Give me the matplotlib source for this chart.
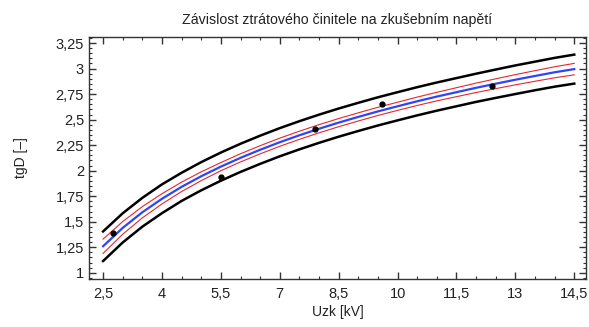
import numpy as np
import matplotlib
matplotlib.use("Agg")
import matplotlib.pyplot as plt
from matplotlib.ticker import MultipleLocator, FuncFormatter

plt.rcParams["font.family"] = ["Liberation Sans", "DejaVu Sans"]

# measured points
u_meas = [2.75, 5.5, 7.9, 9.6, 12.4]
tg_meas = [1.394, 1.942, 2.406, 2.654, 2.83]

# curves
u_curve = [2.5, 3.0, 3.5, 4.0, 4.5, 5.0, 5.5, 6.0, 6.5, 7.0, 7.5, 8.0, 8.5,
           9.0, 9.5, 10.0, 10.5, 11.0, 11.5, 12.0, 12.5, 13.0, 13.5, 14.0, 14.5]
fit = [1.260, 1.440, 1.593, 1.725, 1.842, 1.946, 2.040, 2.126, 2.205, 2.279,
       2.347, 2.411, 2.471, 2.527, 2.581, 2.631, 2.680, 2.726, 2.769, 2.812,
       2.852, 2.891, 2.928, 2.964, 2.995]
conf_up = [1.330, 1.502, 1.648, 1.775, 1.888, 1.989, 2.080, 2.166, 2.245, 2.319,
           2.387, 2.451, 2.511, 2.567, 2.621, 2.671, 2.721, 2.768, 2.813, 2.858,
           2.900, 2.941, 2.980, 3.018, 3.051]
conf_lo = [1.190, 1.378, 1.538, 1.675, 1.796, 1.903, 2.000, 2.086, 2.165, 2.239,
           2.307, 2.371, 2.431, 2.487, 2.541, 2.591, 2.639, 2.684, 2.725, 2.766,
           2.804, 2.841, 2.876, 2.910, 2.939]
pred_up = [1.405, 1.583, 1.734, 1.866, 1.980, 2.084, 2.178, 2.264, 2.343, 2.417,
           2.485, 2.549, 2.609, 2.665, 2.719, 2.769, 2.818, 2.864, 2.907, 2.950,
           2.991, 3.031, 3.068, 3.105, 3.137]
pred_lo = [1.115, 1.297, 1.452, 1.584, 1.704, 1.808, 1.902, 1.988, 2.067, 2.141,
           2.209, 2.273, 2.333, 2.389, 2.443, 2.493, 2.542, 2.588, 2.631, 2.674,
           2.713, 2.751, 2.788, 2.823, 2.853]

fig = plt.figure(figsize=(5.89, 3.27), dpi=100)
ax = fig.add_axes([0.151, 0.147, 0.844, 0.740])

ax.plot(u_curve, pred_up, color="black", lw=1.8)
ax.plot(u_curve, pred_lo, color="black", lw=1.8)
ax.plot(u_curve, conf_up, color="#e8262a", lw=0.8)
ax.plot(u_curve, conf_lo, color="#e8262a", lw=0.8)
ax.plot(u_curve, fit, color="#2f45f5", lw=1.6)
ax.plot(u_meas, tg_meas, "o", color="black", ms=3.5)

ax.set_xlim(2.14, 14.8)
ax.set_ylim(0.94, 3.31)
ax.xaxis.set_minor_locator(MultipleLocator(0.5))
ax.yaxis.set_major_locator(MultipleLocator(0.25))
ax.yaxis.set_minor_locator(MultipleLocator(0.05))
ax.set_xticks([2.5, 4, 5.5, 7, 8.5, 10, 11.5, 13, 14.5])

comma = FuncFormatter(lambda v, p: f"{v:g}".replace(".", ","))
ax.xaxis.set_major_formatter(comma)
ax.yaxis.set_major_formatter(comma)

ax.tick_params(which="both", direction="in", top=True, right=True,
               color="#333333", labelcolor="#222222")
ax.tick_params(which="major", length=5, width=1, labelsize=10.5)
ax.tick_params(which="minor", length=2.5, width=0.8)
ax.tick_params(axis="x", pad=6)
for s in ax.spines.values():
    s.set_linewidth(1.0)
    s.set_color("#333333")

ax.set_title("Závislost ztrátového činitele na zkušebním napětí",
             fontsize=10.2, color="#222222", pad=9)
ax.set_xlabel("Uzk [kV]", fontsize=10, color="#222222", labelpad=3)
ax.set_ylabel("tgD [–]", fontsize=10, color="#222222", labelpad=20)

fig.savefig("out.png", dpi=100)
